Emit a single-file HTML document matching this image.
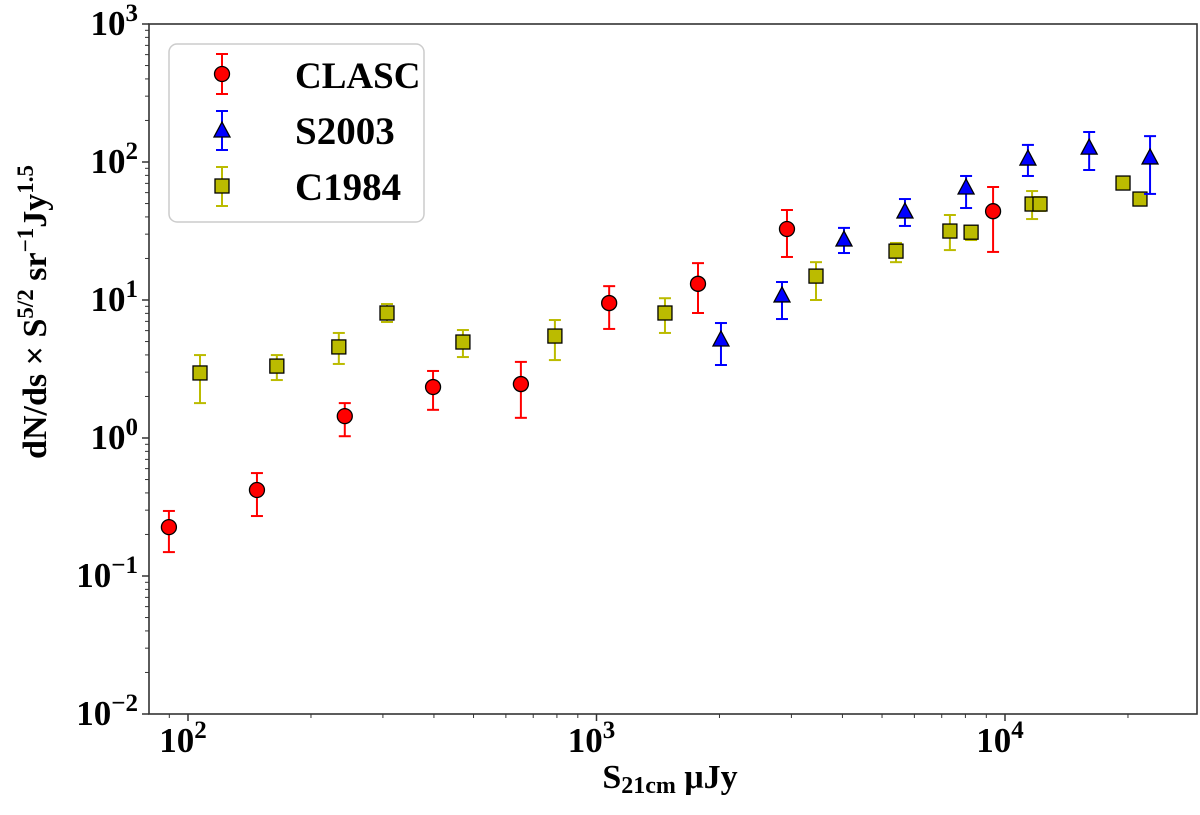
<!DOCTYPE html>
<html><head><meta charset="utf-8"><style>
html,body{margin:0;padding:0;background:#fff;}
svg text{font-family:"Liberation Serif",serif;font-weight:bold;fill:#000;}
</style></head><body>
<svg id="chart" width="1200" height="810" xmlns="http://www.w3.org/2000/svg">
<g id="axes"></g>
<g id="marks"></g>
<g>
<rect x="169" y="44" width="255" height="178" rx="8" fill="#fff" stroke="#ccc" stroke-width="1.5"/>
<g>
<line x1="222" y1="54" x2="222" y2="94" stroke="red" stroke-width="2"/><line x1="216" y1="54" x2="228" y2="54" stroke="red" stroke-width="2"/><line x1="216" y1="94" x2="228" y2="94" stroke="red" stroke-width="2"/>
<circle cx="222" cy="74" r="7.5" fill="red" stroke="#000" stroke-width="1.3"/>
<text x="295" y="88" font-size="37">CLASC</text></g>
<g>
<line x1="222" y1="111" x2="222" y2="150" stroke="blue" stroke-width="2"/><line x1="216" y1="111" x2="228" y2="111" stroke="blue" stroke-width="2"/><line x1="216" y1="150" x2="228" y2="150" stroke="blue" stroke-width="2"/>
<polygon points="222,122 230,137 214,137" fill="blue" stroke="#000" stroke-width="1.3"/>
<text x="295" y="144" font-size="39">S2003</text></g>
<g>
<line x1="222" y1="167" x2="222" y2="206" stroke="#bbbb00" stroke-width="2"/><line x1="216" y1="167" x2="228" y2="167" stroke="#bbbb00" stroke-width="2"/><line x1="216" y1="206" x2="228" y2="206" stroke="#bbbb00" stroke-width="2"/>
<rect x="215" y="179" width="14" height="14" fill="#bbbb00" stroke="#000" stroke-width="1.3"/>
<text x="295" y="200" font-size="39">C1984</text></g>
</g>
<text x="670" y="788" font-size="34" text-anchor="middle">S<tspan font-size="24" dy="5">21cm</tspan><tspan dy="-5"> μJy</tspan></text>
<text transform="translate(46,312) rotate(-90)" font-size="34" text-anchor="middle">dN/ds × S<tspan font-size="23" dy="-13">5/2</tspan><tspan dy="13"> sr</tspan><tspan font-size="23" dy="-13">−1</tspan><tspan dy="13">Jy</tspan><tspan font-size="23" dy="-13">1.5</tspan></text>
</svg>
<script>
// data
const clascX=[89.8,147.5,242,398,653,1074,1772,2926,9350];
const clascY=[0.226,0.42,1.44,2.34,2.46,9.5,13.1,32.7,44];
const clascHi=[0.296,0.557,1.79,3.06,3.56,12.6,18.5,44.9,65.9];
const clascLo=[0.149,0.272,1.03,1.60,1.40,6.17,8.05,20.5,22.3];
const s2003X=[2017,2845,4035,5690,8030,11380,16070,22650];
const s2003Y=[5.13,10.7,27.2,43.4,64.8,105,126,107];
const s2003Hi=[6.81,13.5,33.3,53.9,79.2,133,165,154];
const s2003Lo=[3.38,7.28,21.9,34.4,46.4,79.2,87.5,58.7];
const c1984X=[107,165,234,307,471,791,1471,3446,5410,7330,8260,11650,12180,19450,21400];
const c1984Y=[2.96,3.32,4.57,8.05,4.96,5.48,8.05,14.9,22.6,31.6,31.0,49.6,49.6,70.4,53.9];
const c1984Hi=[3.99,3.99,5.77,9.35,6.06,7.16,10.3,18.8,25.9,41.3,34.4,61.6,55.7,74,57];
const c1984Lo=[1.79,2.63,3.44,6.93,3.86,3.67,5.77,10,18.8,23.0,27.2,38.6,44.2,67,51];
const xTickExps=[2,3,4];
const yTickExps=[-2,-1,0,1,2,3];

const L=149,R=1197,T=24,B=714;
const xPx=v=>188+(Math.log10(v)-2)*408.5;
const yPx=v=>B-(Math.log10(v)+2)*138;
const NS='http://www.w3.org/2000/svg';
function mk(tag,attrs,parent){const e=document.createElementNS(NS,tag);for(const k in attrs)e.setAttribute(k,attrs[k]);parent.appendChild(e);return e;}
const axes=document.getElementById('axes'),marks=document.getElementById('marks');
const frame=mk('rect',{x:L,y:T,width:R-L,height:B-T,fill:'none',stroke:'#333','stroke-width':1.6},axes);


for(let e=1;e<=4;e++){for(let m=1;m<10;m++){const v=m*Math.pow(10,e);const x=xPx(v);if(x<L-0.5||x>R+0.5)continue;
 const t=mk('line',{x1:x,x2:x,y1:B,y2:B+(m===1?7:4),stroke:'#333','stroke-width':m===1?1.5:1},axes);
 
 }}
xTickExps.forEach(e=>{const tx=mk('text',{x:xPx(Math.pow(10,e))-5,y:B+38,'font-size':35,'text-anchor':'middle'},axes);
 
 
 tx.textContent='10';const s=mk('tspan',{'font-size':25,dy:-14},tx);s.textContent=e;});
for(let e=-2;e<=3;e++){for(let m=1;m<10;m++){const v=m*Math.pow(10,e);const y=yPx(v);if(y<T-0.5||y>B+0.5)continue;
 const t=mk('line',{x1:L,x2:L-(m===1?7:4),y1:y,y2:y,stroke:'#333','stroke-width':m===1?1.5:1},axes);
 
 }}
yTickExps.forEach(e=>{const tx=mk('text',{x:138,y:yPx(Math.pow(10,e))+11,'font-size':35,'text-anchor':'end'},axes);
 
 
 tx.textContent='10';const s=mk('tspan',{'font-size':25,dy:-14},tx);s.textContent=(e<0?'−'+(-e):e);});
function series(xs,ys,hi,lo,color,shape,name){
 xs.forEach((xv,i)=>{const g=mk('g',{},marks);
  
  
  const x=xPx(xv),y=yPx(ys[i]),y1=yPx(hi[i]),y2=yPx(lo[i]);
  mk('line',{x1:x,x2:x,y1:y1,y2:y2,stroke:color,'stroke-width':2},g);
  mk('line',{x1:x-6,x2:x+6,y1:y1,y2:y1,stroke:color,'stroke-width':2},g);
  mk('line',{x1:x-6,x2:x+6,y1:y2,y2:y2,stroke:color,'stroke-width':2},g);
  if(shape==='c')mk('circle',{cx:x,cy:y,r:7.5,fill:color,stroke:'#000','stroke-width':1.3},g);
  else if(shape==='t')mk('polygon',{points:`${x},${y-9} ${x+8},${y+6} ${x-8},${y+6}`,fill:color,stroke:'#000','stroke-width':1.3},g);
  else mk('rect',{x:x-7,y:y-7,width:14,height:14,fill:color,stroke:'#000','stroke-width':1.3},g);
 });}
series(c1984X,c1984Y,c1984Hi,c1984Lo,'#bbbb00','s','c1984');
series(s2003X,s2003Y,s2003Hi,s2003Lo,'blue','t','s2003');
series(clascX,clascY,clascHi,clascLo,'red','c','clasc');
</script>
</body></html>
